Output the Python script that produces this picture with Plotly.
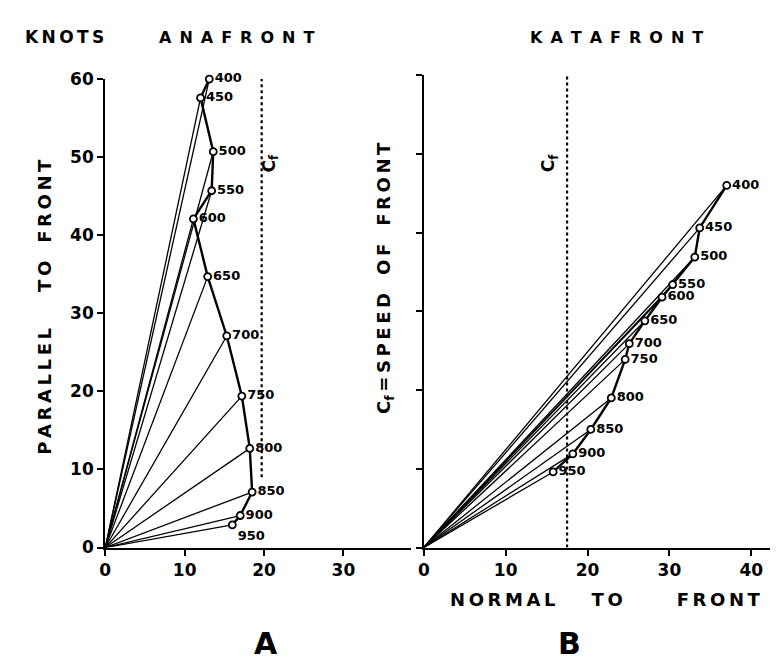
import plotly.graph_objects as go

# ---- data ----
levels = ["400", "450", "500", "550", "600", "650", "700", "750", "800", "850", "900", "950"]
ana_normal = [13.1, 12.0, 13.6, 13.4, 11.1, 12.9, 15.3, 17.2, 18.2, 18.5, 17.0, 16.0]
ana_parallel = [60.0, 57.6, 50.7, 45.7, 42.1, 34.7, 27.1, 19.4, 12.7, 7.1, 4.1, 2.9]
kata_normal = [37.0, 33.7, 33.1, 30.4, 29.1, 27.0, 25.1, 24.6, 22.9, 20.4, 18.2, 15.8]
kata_parallel = [46.0, 40.6, 36.9, 33.4, 31.8, 28.8, 25.9, 23.9, 19.0, 15.0, 11.9, 9.6]
cf_ana = 19.7
cf_kata = 17.5
x_ticks_a = [0, 10, 20, 30]
x_ticks_b = [0, 10, 20, 30, 40]
y_ticks = [0, 10, 20, 30, 40, 50, 60]

W, H = 778, 663
FONT = "DejaVu Sans"


def px(x):
    return x / W


def py(y):
    return 1 - y / H


fig = go.Figure()


def add_panel(xn, yp, cf, cf_range, xa, ya, text_pos):
    rx, ry = [], []
    for a, b in zip(xn, yp):
        rx += [0, a, None]
        ry += [0, b, None]
    fig.add_trace(go.Scatter(x=rx, y=ry, mode="lines", line=dict(color="black", width=1.3),
                             xaxis=xa, yaxis=ya, hoverinfo="skip", cliponaxis=False))
    fig.add_trace(go.Scatter(x=xn, y=yp, mode="lines", line=dict(color="black", width=2.4),
                             xaxis=xa, yaxis=ya, hoverinfo="skip", cliponaxis=False))
    fig.add_trace(go.Scatter(x=xn, y=yp, mode="markers+text", text=levels,
                             textposition=text_pos,
                             textfont=dict(family=FONT, size=13, color="black", weight="bold"),
                             marker=dict(symbol="circle", size=7, color="white",
                                         line=dict(color="black", width=1.8)),
                             xaxis=xa, yaxis=ya, cliponaxis=False))
    fig.add_trace(go.Scatter(x=[cf, cf], y=cf_range, mode="lines",
                             line=dict(color="black", width=2.2, dash="dot"),
                             xaxis=xa, yaxis=ya, hoverinfo="skip", cliponaxis=False))


pos_a = ["middle right"] * 11 + ["bottom right"]
pos_b = ["middle right"] * 12
add_panel(ana_normal, ana_parallel, cf_ana, [9, 61], "x", "y", pos_a)
add_panel(kata_normal, kata_parallel, cf_kata, [0, 60], "x2", "y2", pos_b)

axis_common = dict(showgrid=False, zeroline=False, showline=True, linecolor="black",
                   linewidth=2.2, ticks="outside", tickcolor="black", tickwidth=2,
                   ticklen=6, tickfont=dict(family=FONT, size=17, color="black", weight="bold"))

fig.update_layout(
    width=W, height=H,
    margin=dict(l=0, r=0, t=0, b=0),
    paper_bgcolor="white", plot_bgcolor="rgba(0,0,0,0)",
    showlegend=False,
    xaxis=dict(domain=[px(92), px(400)], range=[0, 38.5], tickvals=x_ticks_a,
               anchor="y", **axis_common),
    yaxis=dict(domain=[py(546), py(63)], range=[0, 60], tickvals=y_ticks,
               anchor="x", **axis_common),
    xaxis2=dict(domain=[px(413), px(776)], range=[0, 44.0], tickvals=x_ticks_b,
                anchor="y2", **axis_common),
    yaxis2=dict(domain=[py(546), py(59)], range=[0, 60], tickvals=y_ticks,
                showticklabels=False, anchor="x2", **axis_common),
)

ann = []


def text(x, y, s, size=16, angle=0, bold=True):
    ann.append(dict(x=px(x), y=py(y), xref="paper", yref="paper", text=(f"<b>{s}</b>" if bold else s),
                    showarrow=False, textangle=angle, xanchor="center", yanchor="middle",
                    font=dict(family=FONT, size=size, color="black")))


def spaced(word, gap="\u2009"):
    return gap.join(word)


en = "\u2002"
thin = "\u2009"
W3 = "\u2003"
text(51, 20, spaced("KNOTS"), 17)
text(224, 20, en.join("ANAFRONT"), 16)
text(607, 20, en.join("KATAFRONT"), 16)
text(30, 298, f"{spaced('PARALLEL')}{W3*2}{spaced('TO')}{W3*1}{spaced('FRONT')}", 18, -90)
text(374, 268, f"C<sub>f</sub>{thin}={thin}{spaced('SPEED')}{W3}{spaced('OF')}{W3}{spaced('FRONT')}", 18, -90)
text(596, 600, f"{spaced('NORMAL')}{W3*2}{spaced('TO')}{W3*3}{spaced('FRONT')}", 18)
text(258, 150, "C<sub>f</sub>", 17, -90)
text(540, 150, "C<sub>f</sub>", 17, -90)
text(254, 645, "A", 30)
text(560, 645, "B", 30)
fig.update_layout(annotations=ann)

fig.write_html("out.html")
